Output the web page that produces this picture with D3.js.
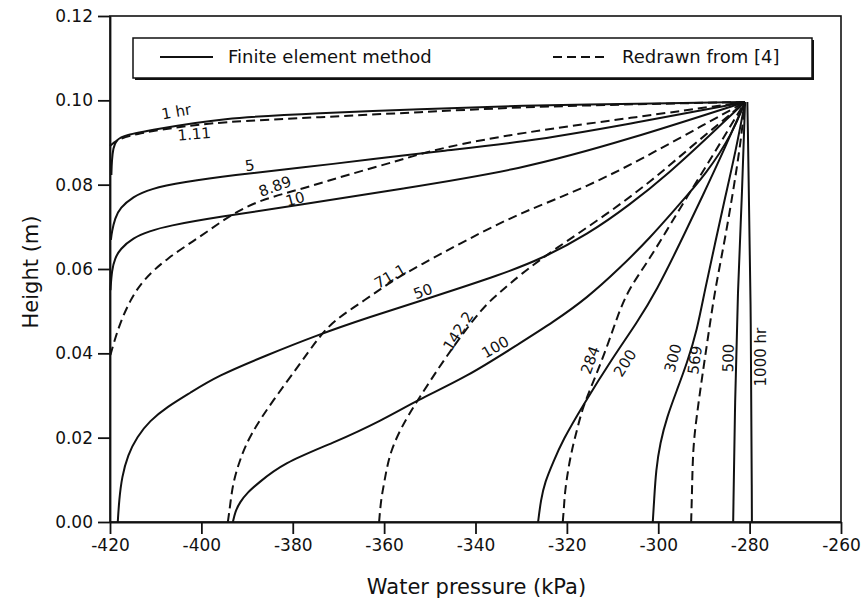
<!DOCTYPE html>
<html>
<head>
<meta charset="utf-8">
<script src="https://cdn.jsdelivr.net/npm/d3@7"></script>
<style>
  body { margin: 0; background: #fff; }
  text { font-family: "DejaVu Sans", sans-serif; fill: #111; }
</style>
</head>
<body>
<script>
// values: [water pressure (kPa), height (m)]
// finite element method (solid)
const fem1 = [[-419.7,0.0823],[-419.6,0.0858],[-419.3,0.0887],[-418.7,0.0906],[-416.7,0.0918],[-410.6,0.0930],[-395.9,0.0958],[-374.0,0.0970],[-352.2,0.0979],[-330.3,0.0988],[-304.0,0.0992],[-281.0,0.0996]];
const fem5 = [[-419.8,0.0669],[-419.6,0.0688],[-418.9,0.0721],[-417.8,0.0745],[-415.0,0.0771],[-411.3,0.0790],[-404.0,0.0806],[-393.1,0.0823],[-378.4,0.0840],[-362.0,0.0861],[-347.8,0.0880],[-330.3,0.0899],[-306.2,0.0944],[-281.0,0.0996]];
const fem10 = [[-419.9,0.0550],[-419.6,0.0598],[-418.9,0.0626],[-417.8,0.0647],[-415.0,0.0674],[-411.3,0.0690],[-407.5,0.0702],[-396.6,0.0723],[-378.4,0.0752],[-356.5,0.0790],[-330.3,0.0835],[-306.2,0.0908],[-281.0,0.0996]];
const fem50 = [[-418.3,0],[-418.0,0.0052],[-417.4,0.0107],[-416.1,0.0159],[-414.1,0.0202],[-411.3,0.0240],[-407.5,0.0273],[-402.5,0.0306],[-396.6,0.0346],[-385.6,0.0396],[-374.7,0.0443],[-363.8,0.0484],[-349.3,0.0534],[-334.6,0.0586],[-325.2,0.0626],[-315.6,0.0681],[-306.2,0.0752],[-297.4,0.0830],[-289.8,0.0906],[-281.0,0.0996]];
const fem100 = [[-393.1,0],[-392.6,0.0024],[-391.6,0.0047],[-389.8,0.0071],[-387.8,0.0090],[-382.1,0.0140],[-371.2,0.0187],[-360.3,0.0242],[-352.8,0.0289],[-341.9,0.0344],[-330.3,0.0424],[-323.0,0.0474],[-315.6,0.0531],[-308.4,0.0602],[-301.8,0.0674],[-295.9,0.0747],[-289.3,0.0828],[-283.7,0.0923],[-281.0,0.0996]];
const fem200 = [[-326.3,0],[-325.7,0.0052],[-324.8,0.0095],[-323.0,0.0142],[-320.9,0.0194],[-316.7,0.0273],[-309.9,0.0391],[-304.7,0.0472],[-300.3,0.0550],[-295.2,0.0662],[-290.2,0.0775],[-285.4,0.0887],[-281.0,0.0996]];
const fem300 = [[-301.2,0],[-300.9,0.0052],[-300.5,0.0123],[-299.6,0.0187],[-298.1,0.0249],[-295.9,0.0313],[-293.7,0.0377],[-291.5,0.0455],[-289.8,0.0550],[-287.6,0.0659],[-285.4,0.0768],[-283.0,0.0882],[-281.0,0.0996]];
const fem500 = [[-283.6,0],[-283.2,0.0289],[-282.6,0.0550],[-281.7,0.0764],[-281.0,0.0996]];
const fem1000 = [[-279.5,0],[-279.7,0.0526],[-280.5,0.0996]];

// redrawn from [4] (dashed)
const ref111 = [[-420.0,0.0892],[-418.2,0.0908],[-414.5,0.0920],[-406.9,0.0934],[-395.9,0.0949],[-374.0,0.0960],[-352.2,0.0972],[-330.3,0.0984],[-304.0,0.0991],[-281.0,0.0996]];
const ref889 = [[-419.9,0.0396],[-419.3,0.0420],[-417.8,0.0472],[-415.6,0.0526],[-412.8,0.0574],[-407.5,0.0626],[-400.3,0.0676],[-393.7,0.0728],[-387.2,0.0764],[-377.3,0.0792],[-367.5,0.0825],[-356.5,0.0858],[-347.8,0.0887],[-330.3,0.0923],[-306.2,0.0958],[-281.0,0.0996]];
const ref711 = [[-394.2,0],[-393.7,0.0040],[-393.1,0.0092],[-391.6,0.0147],[-389.4,0.0206],[-384.3,0.0289],[-378.4,0.0375],[-374.7,0.0432],[-371.2,0.0477],[-363.8,0.0529],[-358.7,0.0569],[-352.2,0.0609],[-341.9,0.0669],[-330.3,0.0733],[-315.6,0.0794],[-301.2,0.0875],[-290.2,0.0941],[-281.0,0.0996]];
const ref1422 = [[-361.1,0],[-360.7,0.0052],[-360.0,0.0092],[-358.7,0.0171],[-355.0,0.0249],[-352.2,0.0296],[-348.4,0.0360],[-344.9,0.0415],[-338.4,0.0510],[-334.6,0.0545],[-330.3,0.0586],[-323.0,0.0645],[-312.1,0.0723],[-301.2,0.0811],[-293.7,0.0882],[-286.5,0.0946],[-281.0,0.0996]];
const ref284 = [[-320.9,0],[-320.6,0.0040],[-320.4,0.0076],[-319.3,0.0154],[-317.8,0.0218],[-316.5,0.0273],[-314.3,0.0330],[-311.2,0.0415],[-309.0,0.0486],[-306.6,0.0550],[-302.5,0.0614],[-298.1,0.0692],[-293.7,0.0771],[-288.7,0.0858],[-284.3,0.0937],[-281.0,0.0996]];
const ref569 = [[-292.8,0],[-292.6,0.0076],[-292.4,0.0178],[-291.5,0.0258],[-290.4,0.0344],[-289.1,0.0439],[-287.6,0.0550],[-285.4,0.0669],[-283.2,0.0811],[-281.9,0.0906],[-281.0,0.0996]];

const solidSeries = [fem1, fem5, fem10, fem50, fem100, fem200, fem300, fem500, fem1000];
const dashedSeries = [ref111, ref889, ref711, ref1422, ref284, ref569];

// curve labels (text, where it sits in data units, angle)
const labelText = ["1 hr", "1.11", "5", "8.89", "10", "71.1", "50", "142.2", "100", "284", "200", "300", "569", "500", "1000 hr"];
const labelAt = [[-405.5,0.0973],[-401.6,0.0920],[-389.4,0.0846],[-383.9,0.0796],[-379.5,0.0766],[-358.7,0.0583],[-351.5,0.0547],[-343.8,0.0453],[-335.7,0.0415],[-314.9,0.0384],[-307.3,0.0377],[-296.8,0.0389],[-292.0,0.0384],[-284.7,0.0389],[-277.6,0.0391]];
const labelAngle = [-10, -5, -8, -20, -15, -30, -20, -58, -30, -70, -58, -75, -82, -88, -90];

const xTicks = [-420, -400, -380, -360, -340, -320, -300, -280, -260];
const yTicks = [0, 0.02, 0.04, 0.06, 0.08, 0.10, 0.12];

const margin = { top: 16, right: 25, bottom: 89, left: 110 };
const width = 866 - margin.left - margin.right;
const height = 611 - margin.top - margin.bottom;

const svg = d3.select('body').append('svg')
    .attr('width', 866)
    .attr('height', 611)
  .append('g')
    .attr('transform', `translate(${margin.left}, ${margin.top})`);

const x = d3.scaleLinear().domain([-420, -260]).range([0, width]);
const y = d3.scaleLinear().domain([0, 0.12]).range([height, 0]);

const line = d3.line()
    .x(d => x(d[0]))
    .y(d => y(d[1]))
    .curve(d3.curveBasis);

// frame
svg.append("rect")
    .attr("width", width).attr("height", height)
    .attr("fill", "none").attr("stroke", "#111").attr("stroke-width", 1.6);

// axes
const xAxis = svg.append("g")
    .attr("transform", "translate(0," + height + ")")
    .call(d3.axisBottom(x).tickValues(xTicks).tickSize(12).tickSizeOuter(0).tickPadding(5)
      .tickFormat(d => String(d)));
const yAxis = svg.append("g")
    .call(d3.axisLeft(y).tickValues(yTicks).tickSize(12).tickSizeOuter(0).tickPadding(5)
      .tickFormat(d3.format(".2f")));

[xAxis, yAxis].forEach(a => {
  a.selectAll("path, line").attr("stroke", "#111").attr("stroke-width", 1.8);
  a.selectAll("text").attr("font-family", "DejaVu Sans").attr("font-size", 17).attr("fill", "#111");
});

// curves
svg.append('g')
  .selectAll("path")
  .data(solidSeries)
  .enter()
  .append("path")
    .attr("d", line)
    .attr("fill", "none")
    .attr("stroke", "#111")
    .attr("stroke-width", 2);

svg.append('g')
  .selectAll("path")
  .data(dashedSeries)
  .enter()
  .append("path")
    .attr("d", line)
    .attr("fill", "none")
    .attr("stroke", "#111")
    .attr("stroke-width", 2)
    .attr("stroke-dasharray", "9,5");

// curve labels
svg.append('g')
  .selectAll("text")
  .data(labelText)
  .enter()
  .append("text")
    .attr("transform", (d, i) => `translate(${x(labelAt[i][0])},${y(labelAt[i][1])}) rotate(${labelAngle[i]})`)
    .attr("text-anchor", "middle")
    .attr("dy", "0.35em")
    .style("font-size", "15px")
    .text(d => d);

// legend
const lg = svg.append("g").attr("transform", `translate(${133 - margin.left}, ${38 - margin.top})`);
lg.append("rect").attr("x", 2).attr("y", 2).attr("width", 679).attr("height", 40).attr("fill", "#111");
lg.append("rect").attr("width", 679).attr("height", 40).attr("fill", "#fff")
    .attr("stroke", "#111").attr("stroke-width", 1.5);
lg.append("line").attr("x1", 27).attr("x2", 80).attr("y1", 19).attr("y2", 19)
    .attr("stroke", "#111").attr("stroke-width", 2);
lg.append("text").attr("x", 95).attr("y", 25).style("font-size", "18px").text("Finite element method");
lg.append("line").attr("x1", 420).attr("x2", 474).attr("y1", 19).attr("y2", 19)
    .attr("stroke", "#111").attr("stroke-width", 2).attr("stroke-dasharray", "9,5");
lg.append("text").attr("x", 489).attr("y", 25).style("font-size", "18px").text("Redrawn from [4]");

// axis titles
svg.append("text")
    .attr("transform", "translate(" + (width / 2 + 1) + " ," + (height + 72) + ")")
    .style("text-anchor", "middle")
    .style("font-size", "21px")
    .text("Water pressure (kPa)");

svg.append("text")
    .attr("transform", "rotate(-90)")
    .attr("y", 31 - margin.left)
    .attr("x", 0 - (272 - margin.top))
    .attr("dy", "0.35em")
    .style("text-anchor", "middle")
    .style("font-size", "21px")
    .text("Height (m)");
</script>
</body>
</html>
